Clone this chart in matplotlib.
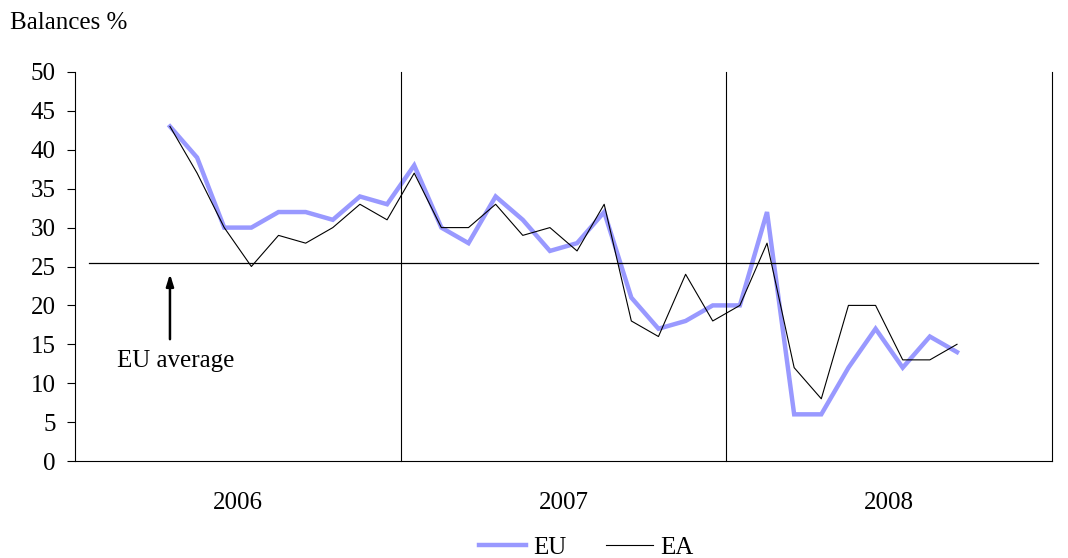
import matplotlib
matplotlib.use("Agg")
import matplotlib.pyplot as plt

plt.rcParams['font.family'] = ['Liberation Serif', 'DejaVu Serif']

years = ['2006', '2007', '2008']
# monthly data from April 2006 to September 2008
first_month = 3
eu = [43, 39, 30, 30, 32, 32, 31, 34, 33,
      38, 30, 28, 34, 31, 27, 28, 32, 21, 17, 18, 20,
      20, 32, 6, 6, 12, 17, 12, 16, 14]
ea = [43, 37, 30, 25, 29, 28, 30, 33, 31,
      37, 30, 30, 33, 29, 30, 27, 33, 18, 16, 24, 18,
      20, 28, 12, 8, 20, 20, 13, 13, 15]
eu_average = 25.5

x = list(range(first_month, first_month + len(eu)))

fig = plt.figure(figsize=(10.68, 5.58), dpi=100)
ax = fig.add_axes([0.0702, 0.1738, 0.9148, 0.6972])

ax.plot(x, eu, color='#9999FF', lw=3.2, label='EU', solid_joinstyle='miter')
ax.plot(x, ea, color='black', lw=0.8, label='EA')

# EU average line and annotation
ax.plot([0, 35], [eu_average, eu_average], color='black', lw=0.9)
ax.annotate('', xy=(3, 24.4), xytext=(3, 15.3),
            arrowprops=dict(arrowstyle='-|>,head_length=0.7,head_width=0.22',
                            color='black', lw=1.8))
ax.text(3.2, 12.9, 'EU average', ha='center', va='center', fontsize=18)

# year separators
for b in [11.5, 23.5, 35.5]:
    ax.axvline(b, color='black', lw=0.8, clip_on=False)

ax.set_xlim(-0.5, 35.5)
ax.set_ylim(0, 50)
ax.set_yticks(range(0, 51, 5))
ax.set_xticks([5.5, 17.5, 29.5])
ax.set_xticklabels(years)
ax.tick_params(axis='x', length=0, pad=22, labelsize=18)
ax.tick_params(axis='y', length=6, width=0.8, direction='out', pad=8, labelsize=18)
for s in ['top', 'right']:
    ax.spines[s].set_visible(False)
for s in ['left', 'bottom']:
    ax.spines[s].set_linewidth(0.8)

fig.text(0.009, 0.958, 'Balances %', fontsize=18, va='center', ha='left')

fig.legend(loc='lower center', bbox_to_anchor=(0.549, -0.042), ncol=2,
           frameon=False, fontsize=18, handlelength=1.85, columnspacing=1.6,
           handletextpad=0.3)

fig.savefig('out.png', dpi=100)
